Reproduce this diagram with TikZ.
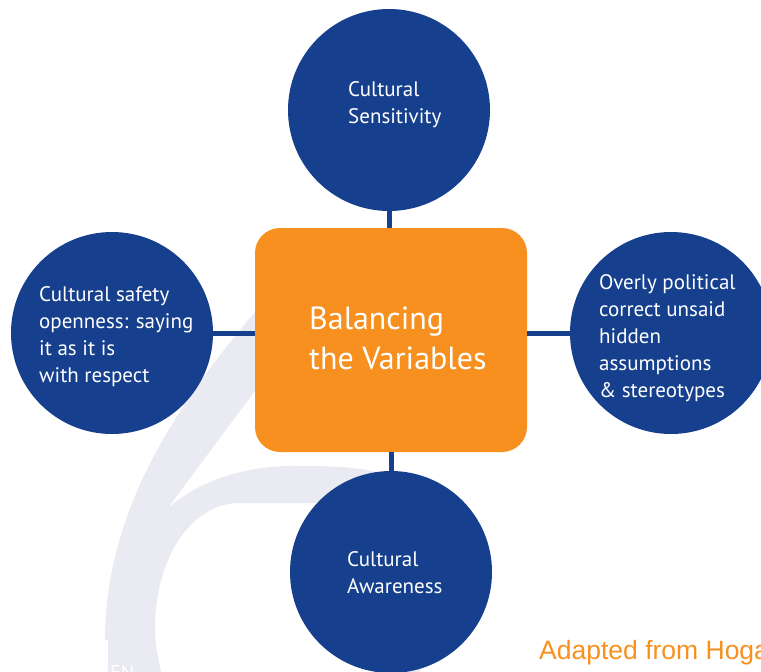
\documentclass[tikz,border=0pt]{standalone}
\usepackage{fontspec}
\setmainfont{PT Sans}
\newfontfamily\adaptfont{Liberation Sans}
\definecolor{varblue}{RGB}{22,64,141}
\definecolor{varorange}{RGB}{247,144,30}
\definecolor{sixgray}{RGB}{233,234,242}

\begin{document}
\begin{tikzpicture}[x=1pt,y=-1pt]
   \tikzstyle{varcircle}=[circle, fill=varblue, minimum size=202pt, inner sep=0pt]
   \tikzstyle{vartext}=[anchor=west, inner sep=0pt, text=white, align=left, font=\fontsize{21}{27}\selectfont]
   \tikzstyle{balancebox}=[rectangle, rounded corners=25pt, fill=varorange, minimum width=272pt, minimum height=224pt]
   \tikzstyle{linkline}=[draw=varblue, line width=5pt]

\useasboundingbox (0,0) rectangle (761,672);
\begin{scope}
    \clip (0,0) rectangle (761,672);
    % faded six behind everything: stem
    \fill[sixgray] (314,235) -- (255,312) .. controls (172,410) and (105,515) .. (105,640)
        -- (130,640) -- (170,505) -- (371,235) -- cycle;
    % and bowl
    \fill[sixgray, even odd rule]
        (400,480) .. controls (370,467) and (340,466) .. (300,466)
        .. controls (220,464) and (120,500) .. (108,640) -- (108,690) -- (420,690) -- (420,520) -- cycle
        (380,506) -- (310,503) -- (240,503) .. controls (190,503) and (155,560) .. (155,627)
        .. controls (155,650) and (160,665) .. (165,690) -- (380,690) -- cycle;
\end{scope}

\node[varcircle] (sensitivity) at (389,110) {};
\node[varcircle] (safety) at (112,333) {};
\node[varcircle] (correct) at (671,333) {};
\node[varcircle] (awareness) at (391,572) {};
\node[balancebox] (balance) at (391,340) {};

\draw[linkline] (sensitivity) -- (sensitivity |- balance.north);
\draw[linkline] (safety) -- (safety -| balance.west);
\draw[linkline] (correct) -- (correct -| balance.east);
\draw[linkline] (awareness) -- (awareness |- balance.south);

% texts
\node[vartext] (sensitivity text) at (348,105) {Cultural\\Sensitivity};
\node[vartext] (safety text) at (39,337) {Cultural safety\\openness: saying\\it as it is\\with respect};
\node[vartext] (correct text) at (599,338) {Overly political\\correct unsaid\\hidden\\assumptions\\\& stereotypes};
\node[vartext] (awareness text) at (347,573) {Cultural\\Awareness};
\node[vartext, font=\fontsize{32}{40}\selectfont] (balance text) at (309,338) {Balancing\\the Variables};

\node[anchor=base west, inner sep=0pt, text=varorange, font=\adaptfont\fontsize{26.5}{30}\selectfont] (source) at (539,659) {Adapted from Hoga};
\node[anchor=north west, inner sep=0pt, text=white, font=\fontsize{20}{24}\selectfont] (edition) at (110,665) {EN};

\end{tikzpicture}
\end{document}
